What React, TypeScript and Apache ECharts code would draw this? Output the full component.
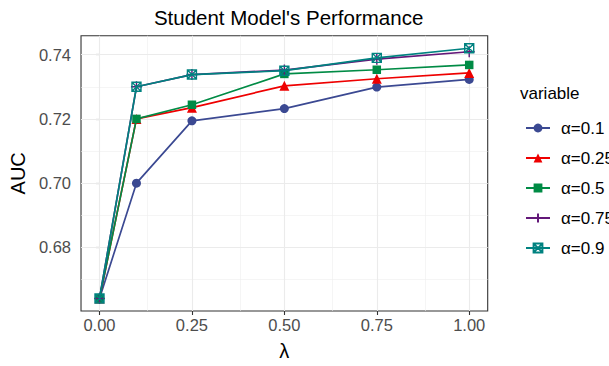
import React, { useEffect, useRef } from "react";
import * as echarts from "echarts";

// λ values (x)
const lambdas = [0, 0.1, 0.25, 0.5, 0.75, 1.0];

// AUC per α
const seriesNames = ["α=0.1", "α=0.25", "α=0.5", "α=0.75", "α=0.9"];
const alpha01 = [0.6641, 0.7, 0.7194, 0.7232, 0.7299, 0.7323];
const alpha025 = [0.6641, 0.72, 0.7235, 0.7303, 0.7325, 0.7343];
const alpha05 = [0.6641, 0.72, 0.7244, 0.734, 0.7353, 0.7368];
const alpha075 = [0.6641, 0.73, 0.7338, 0.7352, 0.7386, 0.7409];
const alpha09 = [0.6641, 0.73, 0.7338, 0.735, 0.739, 0.742];

// ticks / grid
const xTicks = [0, 0.25, 0.5, 0.75, 1.0];
const xMinor = [0.125, 0.375, 0.625, 0.875];
const yTicks = [0.68, 0.7, 0.72, 0.74];
const yMinor = [0.67, 0.69, 0.71, 0.73];

const FONT = "'Liberation Sans', Arial, Helvetica, sans-serif";

const colors = ["#3B4992", "#EE0000", "#008B45", "#631879", "#008280"];
const PLUS = "path://M5,0 L5,10 M0,5 L10,5";
const SQCROSS = "path://M0,0 L10,0 L10,10 L0,10 Z M0,0 L10,10 M10,0 L0,10";

export default function App() {
  const ref = useRef<HTMLDivElement>(null);
  useEffect(() => {
    if (!ref.current) return;
    const chart = echarts.init(ref.current, undefined, { renderer: "svg" });
    const values = [alpha01, alpha025, alpha05, alpha075, alpha09];
    const symbols: any[] = ["circle", "triangle", "rect", PLUS, SQCROSS];
    const sizes = [9, 10, 8.5, 11, 9];
    const outlined = [false, false, false, true, true];

    const dataSeries = values.map((vals, i) => ({
      type: "line",
      name: seriesNames[i],
      data: lambdas.map((x, j) => [x, vals[j]]),
      symbol: symbols[i],
      symbolSize: sizes[i],
      showAllSymbol: true,
      z: 3 + i,
      lineStyle: { color: colors[i], width: 1.7 },
      itemStyle: outlined[i]
        ? { color: "transparent", borderColor: colors[i], borderWidth: 1.4 }
        : { color: colors[i], borderWidth: 0 },
      emphasis: { disabled: true },
      silent: true,
    }));

    const gridLine = (w: number, c: string) => ({ width: w, color: c, type: "solid" });
    const gridSeries = {
      type: "line",
      data: [],
      silent: true,
      z: 1,
      markLine: {
        silent: true,
        z: 1,
        animation: false,
        symbol: ["none", "none"],
        label: { show: false },
        emphasis: { disabled: true },
        data: [
          ...xMinor.map((v) => ({ xAxis: v, lineStyle: gridLine(0.6, "#EFEFEF") })),
          ...yMinor.map((v) => ({ yAxis: v, lineStyle: gridLine(0.6, "#EFEFEF") })),
          ...xTicks.map((v) => ({ xAxis: v, lineStyle: gridLine(1.1, "#EBEBEB") })),
          ...yTicks.map((v) => ({ yAxis: v, lineStyle: gridLine(1.1, "#EBEBEB") })),
        ],
      },
    };

    chart.setOption({
      animation: false,
      textStyle: { fontFamily: FONT },
      title: [
        {
          text: "Student Model's Performance",
          left: 283.6,
          top: 2,
          textAlign: "center",
          textStyle: { fontSize: 20.5, fontWeight: "normal", color: "#000", fontFamily: FONT },
        },
        {
          text: "variable",
          left: 515,
          top: 80,
          textStyle: { fontSize: 17, fontWeight: "normal", color: "#000", fontFamily: FONT },
        },
      ],
      legend: {
        orient: "vertical",
        left: 520,
        top: 114.5,
        itemWidth: 24,
        itemHeight: 11,
        itemGap: 13,
        data: seriesNames,
        selectedMode: false,
        textStyle: { fontSize: 17, color: "#000", fontFamily: FONT, padding: [0, 0, 0, 6] },
      },
      grid: {
        left: 79.5,
        right: 121.3,
        top: 35.7,
        bottom: 55,
        show: true,
        borderColor: "#333333",
        borderWidth: 1.1,
        backgroundColor: "transparent",
      },
      xAxis: {
        type: "value",
        min: -0.05,
        max: 1.05,
        axisLine: { show: false },
        axisTick: {
          show: true,
          length: 4,
          customValues: xTicks,
          lineStyle: { color: "#333333", width: 1.1 },
        },
        axisLabel: {
          customValues: xTicks,
          formatter: (v: number) => v.toFixed(2),
          color: "#4D4D4D",
          fontSize: 16.5,
          margin: 5,
          fontFamily: FONT,
        },
        splitLine: { show: false },
        name: "λ",
        nameLocation: "middle",
        nameGap: 30,
        nameTextStyle: { fontSize: 20, color: "#000", fontFamily: FONT },
      },
      yAxis: {
        type: "value",
        min: 0.6602,
        max: 0.7459,
        axisLine: { show: false },
        axisTick: {
          show: true,
          length: 4,
          customValues: yTicks,
          lineStyle: { color: "#333333", width: 1.1 },
        },
        axisLabel: {
          customValues: yTicks,
          formatter: (v: number) => v.toFixed(2),
          color: "#4D4D4D",
          fontSize: 16.5,
          margin: 10,
          fontFamily: FONT,
        },
        splitLine: { show: false },
        name: "AUC",
        nameLocation: "middle",
        nameGap: 48,
        nameRotate: 90,
        nameTextStyle: { fontSize: 20, color: "#000", fontFamily: FONT },
      },
      series: [gridSeries, ...dataSeries],
    });
    return () => chart.dispose();
  }, []);
  return (
    <div
      ref={ref}
      style={{ position: "fixed", left: 0, top: 0, width: 609, height: 366, background: "#fff" }}
    />
  );
}
